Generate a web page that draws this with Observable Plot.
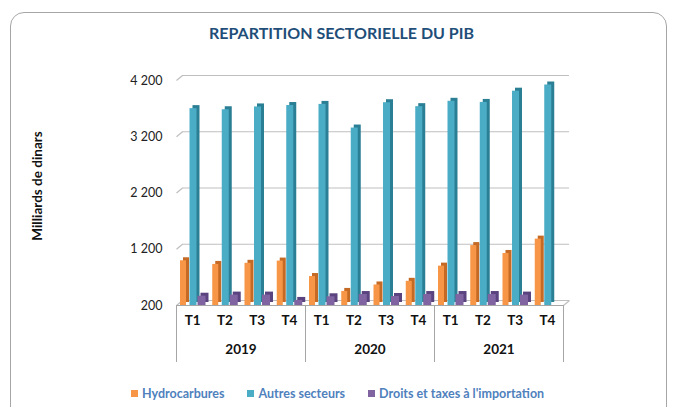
<!DOCTYPE html>
<html><head><meta charset="utf-8">
<script src="https://cdn.jsdelivr.net/npm/d3@7"></script>
<script src="https://cdn.jsdelivr.net/npm/@observablehq/plot@0.6"></script>
<style>
body{margin:0;width:675px;height:407px;overflow:hidden;background:#fff;font-family:Lato,"Open Sans",sans-serif;position:relative}
#frame{position:absolute;left:10px;top:12px;width:657px;height:440px;border:1px solid #a6a6a6;border-radius:14px;box-sizing:border-box}
#title{position:absolute;left:0;width:683px;top:23px;text-align:center;font-weight:bold;font-size:16px;line-height:19px;color:#1F4E79}
#chart{position:absolute;left:0;top:0}
#legend{position:absolute;left:131px;top:386px;display:flex;gap:23px;font-weight:bold;font-size:12.5px;line-height:15px;color:#4F81BD}
#legend .item{display:flex;align-items:center;gap:4px}
#legend .sw{width:7px;height:7px;display:inline-block}
</style></head>
<body>
<div id="frame"></div>
<div id="title">REPARTITION SECTORIELLE DU PIB</div>
<div id="chart"></div>
<div id="legend"></div>
<script>
const years = ["2019", "2020", "2021"];
const quarters = ["T1", "T2", "T3", "T4"];
const seriesNames = ["Hydrocarbures", "Autres secteurs", "Droits et taxes à l'importation"];
const seriesColors = ["#F79646", "#4BACC6", "#8064A2"];
const sideColors = ["#C46A25", "#2B7F95", "#5B4380"];
const hydrocarbures = [995, 930, 950, 990, 715, 450, 565, 630, 900, 1265, 1125, 1380];
const autresSecteurs = [3700, 3680, 3730, 3755, 3775, 3355, 3805, 3735, 3830, 3810, 4010, 4120];
const droitsTaxes = [365, 385, 385, 290, 355, 395, 360, 395, 395, 395, 385, null];
const yTicks = [200, 1200, 2200, 3200, 4200];
const yTitle = "Milliards de dinars";

const W = 675, H = 370, mL = 176, mR = 112, mT = 80, mB = 65;
const bw = (W - mL - mR) / 12;              // px per period
const ppu = (H - mT - mB) / (4200 - 200);   // px per value unit
const depthX = 6, depthY = 5;

const periods = years.flatMap((y, yi) => quarters.map((q, qi) => ({i: yi * 4 + qi, year: y, q})));
const allValues = [hydrocarbures, autresSecteurs, droitsTaxes];
// slot geometry in px: [insetLeft, width]
const geom = [[4, 6], [13.5, 7], [21.5, 8]];

const fr = d3.formatLocale({thousands: "\u00a0", grouping: [3], decimal: ",", currency: ["", ""]}).format(",");

const barMarks = [];
allValues.forEach((vals, s) => {
  const rows = periods.map((p, k) => ({...p, v: vals[k]})).filter(d => d.v != null);
  const [L, w] = geom[s];
  const opts = {x1: d => d.i, x2: d => d.i + 1, y1: 200, y2: "v", insetLeft: L, insetRight: bw - L - w};
  barMarks.push(Plot.rectY(rows, {...opts, fill: sideColors[s], dx: 3, dy: -3}));
  barMarks.push(Plot.rectY(rows, {...opts, fill: seriesColors[s]}));
});

const yBelow = 200 - 57 / ppu;

const chart = Plot.plot({
  width: W, height: H,
  marginLeft: mL, marginRight: mR, marginTop: mT, marginBottom: mB,
  style: {fontFamily: "Lato, 'Open Sans', sans-serif", fontSize: "12.5px", color: "#222", background: "transparent", overflow: "visible"},
  x: {type: "linear", domain: [0, 12], axis: null},
  y: {domain: [200, 4200], ticks: yTicks, tickFormat: fr, tickSize: 0, tickPadding: 14, label: null},
  marks: [
    Plot.ruleY(yTicks, {x1: 0, x2: 12, dx: depthX, dy: -depthY, stroke: "#BFBFBF", strokeWidth: 1.2}),
    Plot.link(yTicks, {x1: 0, y1: d => d, x2: depthX / bw, y2: d => d + depthY / ppu, stroke: "#BFBFBF", strokeWidth: 1.2}),
    Plot.link([200], {x1: 12, y1: d => d, x2: 12 + depthX / bw, y2: d => d + depthY / ppu, stroke: "#BFBFBF", strokeWidth: 1.2}),
    ...barMarks,
    Plot.ruleY([200], {x1: 0, x2: 12, stroke: "#A6A6A6"}),
    Plot.ruleX([0, 4, 8, 12], {y1: 200, y2: yBelow, stroke: "#A6A6A6"}),
    Plot.text(periods, {x: d => d.i + 0.5, text: "q", frameAnchor: "bottom", dy: 19, fontWeight: "bold", fontSize: 13.5, fill: "#111"}),
    Plot.text(years, {x: (d, k) => k * 4 + 2, text: d => d, frameAnchor: "bottom", dy: 48, fontWeight: "bold", fontSize: 13.5, fill: "#111"}),
    Plot.text([yTitle], {frameAnchor: "left", textAnchor: "middle", dx: -139, dy: -7, rotate: -90, fontWeight: "bold", fontSize: 13.5, fill: "#111"})
  ]
});
document.getElementById("chart").appendChild(chart);

const legend = document.getElementById("legend");
seriesNames.forEach((n, s) => {
  const it = document.createElement("span");
  it.className = "item";
  it.innerHTML = `<span class="sw" style="background:${seriesColors[s]}"></span><span>${n}</span>`;
  legend.appendChild(it);
});
</script>
</body></html>
